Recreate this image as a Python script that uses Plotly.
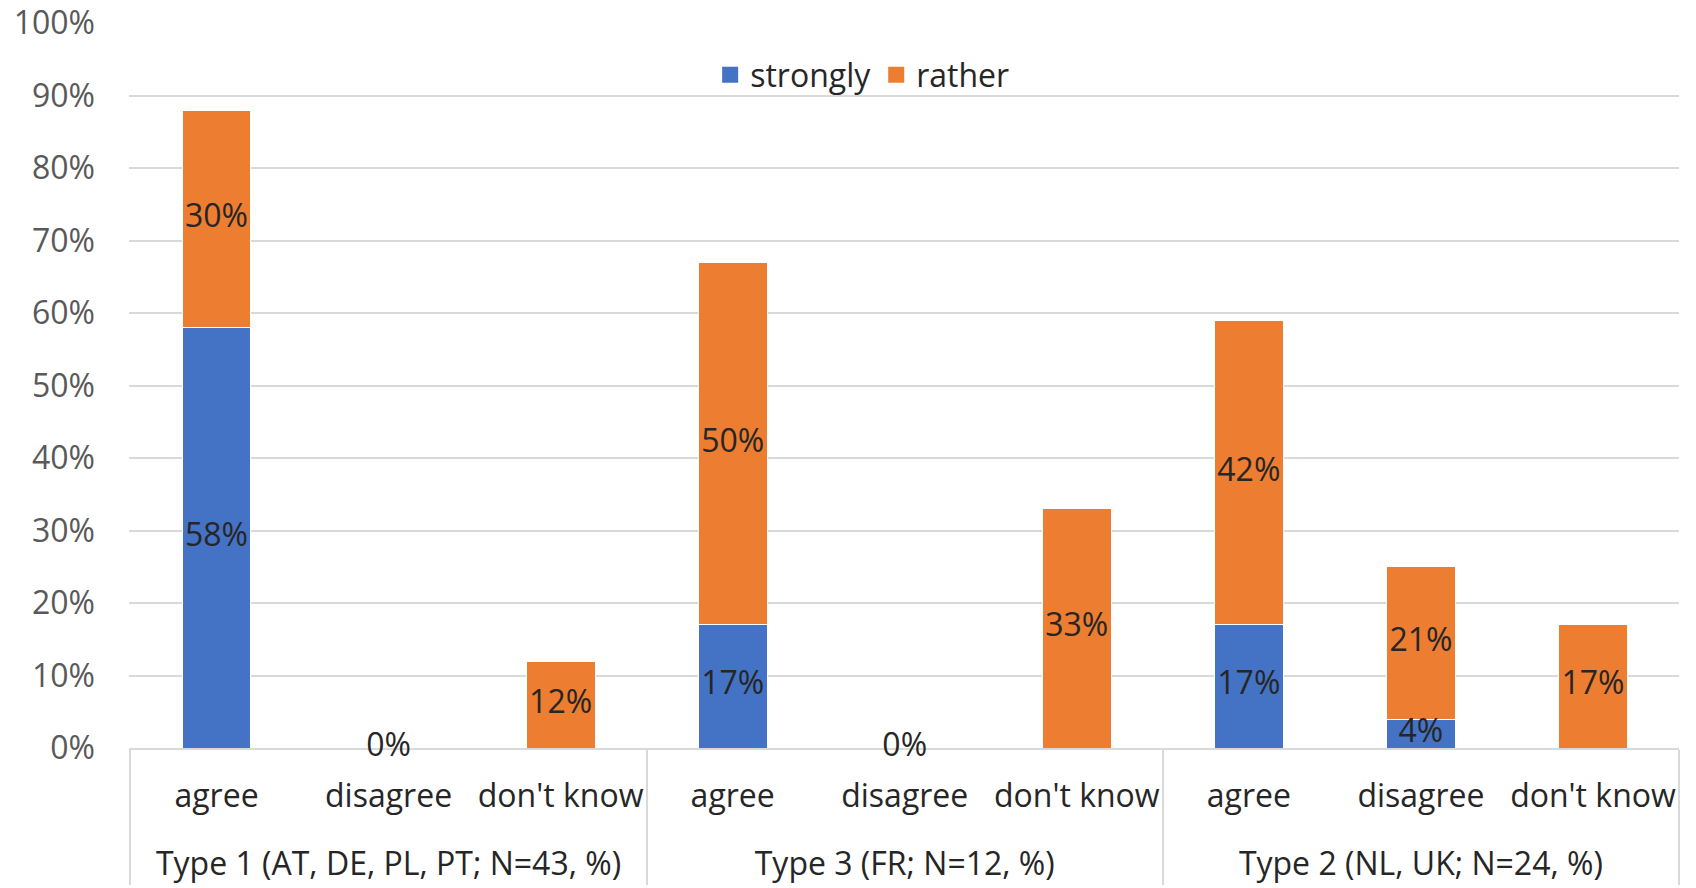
import plotly.graph_objects as go

# Survey answers by country type, in percent
group_names = ["Type 1 (AT, DE, PL, PT; N=43, %)", "Type 3 (FR; N=12, %)", "Type 2 (NL, UK; N=24, %)"]
answer_names = ["agree", "disagree", "don't know"]
strongly = [58, 0, None, 17, 0, None, 17, 4, None]
rather = [30, None, 12, 50, None, 33, 42, 21, 17]
y_ticks = list(range(0, 101, 10))
y_tick_text = [f"{v}%" for v in y_ticks]

BLUE = "#4472C4"
ORANGE = "#ED7D31"
GRID = "#D9D9D9"
FONT = "Open Sans"
FS = 32

# outer level labels sit one line lower than the answers row
groups = ["<br>" + g for g in group_names for _ in answer_names]
answers = answer_names * len(group_names)
x = [groups, answers]

fig = go.Figure()
fig.add_trace(go.Bar(x=x, y=strongly, name="strongly", marker=dict(color=BLUE, line=dict(color="white", width=1)),
                     showlegend=False, hoverinfo="skip"))
fig.add_trace(go.Bar(x=x, y=rather, name="rather", marker=dict(color=ORANGE, line=dict(color="white", width=1)),
                     showlegend=False, hoverinfo="skip"))

# value labels centred in each stacked segment
lab_y, lab_t, lab_g, lab_a = [], [], [], []
for g, a, s, r in zip(groups, answers, strongly, rather):
    base = s or 0
    if s is not None:
        lab_g.append(g); lab_a.append(a); lab_y.append(s / 2); lab_t.append(f"{s}%")
    if r is not None:
        lab_g.append(g); lab_a.append(a); lab_y.append(base + r / 2); lab_t.append(f"{r}%")

fig.add_trace(go.Scatter(x=[lab_g, lab_a], y=lab_y, text=lab_t, mode="text",
                         textposition="middle center",
                         textfont=dict(family=FONT, size=FS, color="#262626"),
                         showlegend=False, hoverinfo="skip", cliponaxis=False))

# legend entries
for name, col in [("strongly", BLUE), ("rather", ORANGE)]:
    fig.add_trace(go.Scatter(x=[[groups[0]], [answers[0]]], y=[None], mode="markers", name=name,
                             marker=dict(symbol="square", size=16, color=col)))

fig.update_layout(
    width=1696, height=888,
    margin=dict(l=129, r=17, t=23, b=140),
    barmode="stack", bargap=0.6,
    plot_bgcolor="white", paper_bgcolor="white",
    font=dict(family=FONT, size=FS, color="#262626"),
    legend=dict(orientation="h", x=0.473, y=0.9285, xanchor="center", yanchor="middle",
                traceorder="normal",
                font=dict(family=FONT, size=FS, color="#262626"), bgcolor="rgba(0,0,0,0)"),
    showlegend=True,
)
fig.update_yaxes(range=[0, 100], tickvals=y_ticks, ticktext=y_tick_text, showgrid=True, gridcolor=GRID, gridwidth=2,
                 zeroline=False, showline=False, ticklabelstandoff=33, automargin=False,
                 tickfont=dict(family=FONT, size=FS, color="#595959"))
fig.update_xaxes(type="multicategory", showline=True, linecolor=GRID, linewidth=2, ticks="",
                 tickangle=0, automargin=False, layer="below traces", ticklabelstandoff=19,
                 showdividers=True, dividercolor=GRID, dividerwidth=2,
                 tickfont=dict(family=FONT, size=FS, color="#262626"))

fig.write_html("out.html")
